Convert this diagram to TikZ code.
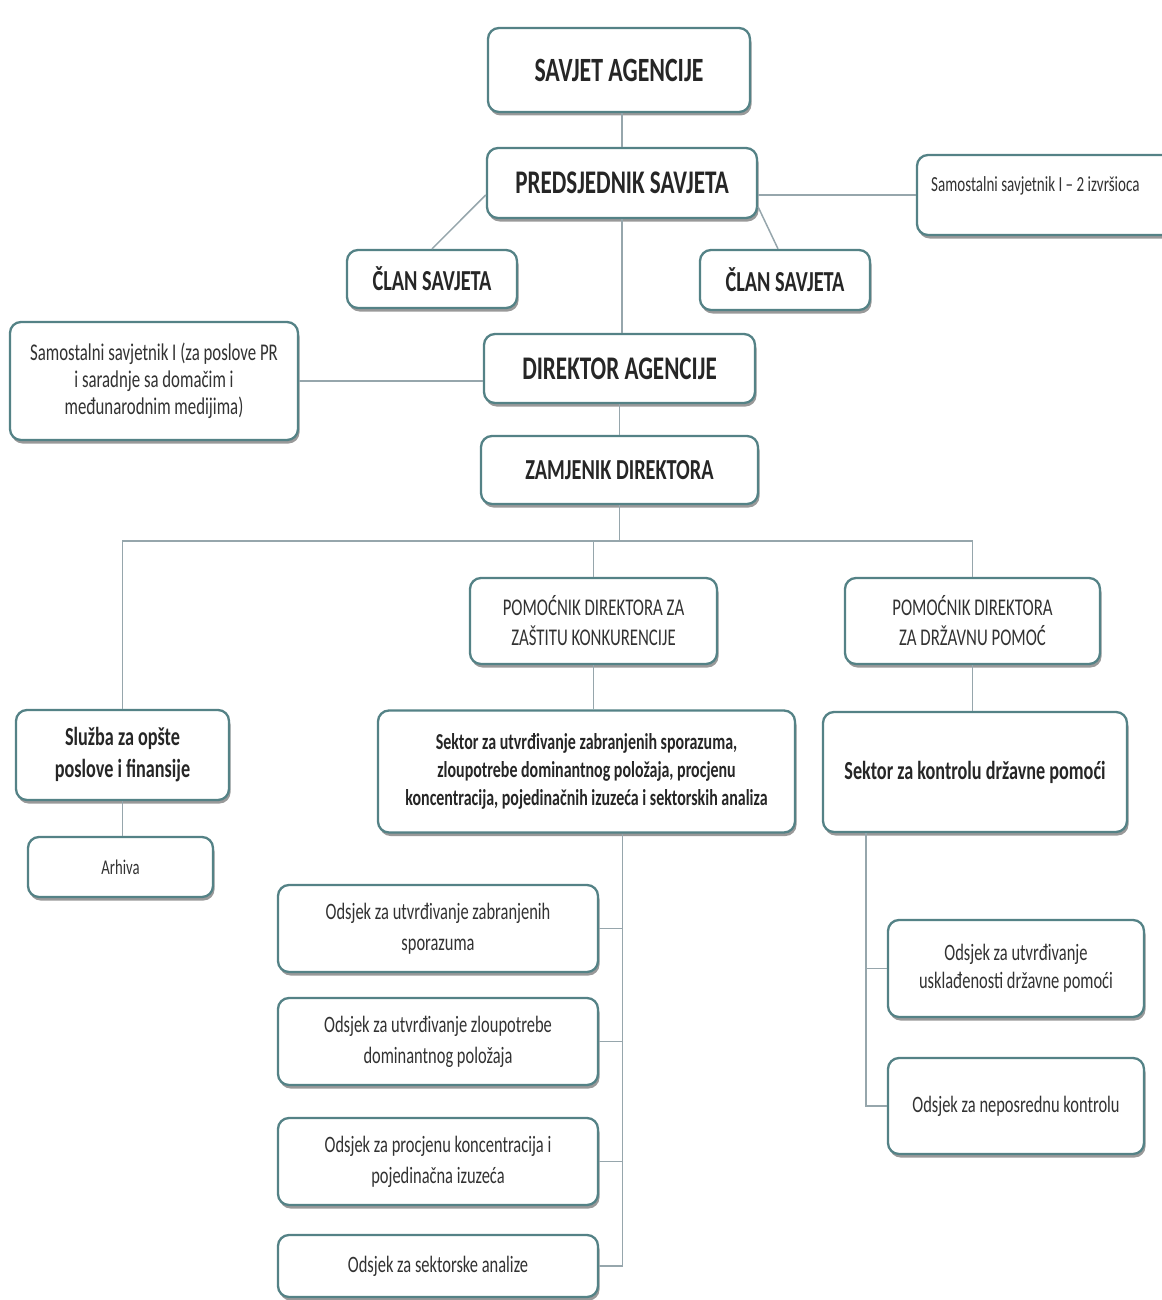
\documentclass[tikz,border=0pt]{standalone}
\usepackage{fontspec}
\setmainfont{Carlito}[FakeStretch=0.7]
\usetikzlibrary{shadows,calc}
\definecolor{bordc}{RGB}{84,130,134}
\definecolor{linec}{RGB}{150,166,172}
\definecolor{txt}{RGB}{38,38,38}
\definecolor{txtl}{RGB}{50,50,50}
\newcommand{\fsz}[2]{\fontsize{#1}{#2}\selectfont}
\begin{document}
\begin{tikzpicture}[x=1pt,y=-1pt,
  box/.style={draw=bordc, line width=2.3pt, rounded corners=11pt, fill=white,
    align=center, text=txt, inner sep=2pt,
    drop shadow={shadow xshift=1.5pt, shadow yshift=-3.5pt, fill=black, opacity=0.4}},
  rbox/.style={box, text=txtl},
  conn/.style={draw=linec, line width=1.5pt}]
\useasboundingbox (0,0) rectangle (1161,1300);

% nodes
\node[box, minimum width=262pt, minimum height=84pt, font=\fsz{34}{40}\bfseries] (savjet) at (619,70) {SAVJET AGENCIJE};
\node[box, minimum width=270pt, minimum height=70pt, font=\fsz{33}{38}\bfseries] (pred) at (622,183) {PREDSJEDNIK SAVJETA};
\node[box, minimum width=263pt, minimum height=80pt] (sam2) at (1048.5,195) {};
\node[anchor=west, font=\fsz{21.5}{24}, text=txtl, inner sep=0pt] (sam2t) at (931,186) {Samostalni savjetnik I – 2 izvršioca};
\node[box, minimum width=170pt, minimum height=58pt, font=\fsz{29}{34}\bfseries] (clan1) at (432,279) {ČLAN SAVJETA};
\node[box, minimum width=170pt, minimum height=60pt, font=\fsz{29}{34}\bfseries] (clan2) at (785,280) {ČLAN SAVJETA};
\node[rbox, minimum width=288pt, minimum height=118pt, font=\fsz{24}{27}] (sampr) at (154,381) {Samostalni savjetnik I (za poslove PR\\ i saradnje sa domačim i\\ međunarodnim medijima)};
\node[box, minimum width=271pt, minimum height=69pt, font=\fsz{33}{38}\bfseries] (dir) at (619.5,368.5) {DIREKTOR AGENCIJE};
\node[box, minimum width=277pt, minimum height=68pt, font=\fsz{29}{34}\bfseries] (zam) at (619.5,470) {ZAMJENIK DIREKTORA};
\node[rbox, minimum width=247pt, minimum height=86pt, font=\fsz{24}{30}] (pom1) at (593.5,621) {POMOĆNIK DIREKTORA ZA\\ZAŠTITU KONKURENCIJE};
\node[rbox, minimum width=255pt, minimum height=86pt, font=\fsz{24}{30}] (pom2) at (972.5,621) {POMOĆNIK DIREKTORA\\ZA DRŽAVNU POMOĆ};
\node[box, minimum width=213pt, minimum height=90pt, font=\fsz{26}{32}\bfseries] (sluzba) at (122.5,755) {Služba za opšte\\poslove i finansije};
\node[rbox, minimum width=185pt, minimum height=60pt, font=\fsz{21}{24}] (arhiva) at (120.5,867) {Arhiva};
\node[box, minimum width=417pt, minimum height=122pt, font=\fsz{22.8}{28}\bfseries] (sek1) at (586.5,771.5) {Sektor za utvrđivanje zabranjenih sporazuma,\\zloupotrebe dominantnog položaja, procjenu\\koncentracija, pojedinačnih izuzeća i sektorskih analiza};
\node[box, minimum width=304pt, minimum height=120pt, font=\fsz{26}{32}\bfseries] (sek2) at (975,772) {Sektor za kontrolu državne pomoći};
\node[rbox, minimum width=320pt, minimum height=87pt, font=\fsz{23.5}{31}] (od1) at (438,928.5) {Odsjek za utvrđivanje zabranjenih\\sporazuma};
\node[rbox, minimum width=320pt, minimum height=87pt, font=\fsz{23.5}{31}] (od2) at (438,1041.5) {Odsjek za utvrđivanje zloupotrebe\\dominantnog položaja};
\node[rbox, minimum width=320pt, minimum height=87pt, font=\fsz{23.5}{31}] (od3) at (438,1161.5) {Odsjek za procjenu koncentracija i\\pojedinačna izuzeća};
\node[rbox, minimum width=320pt, minimum height=62pt, font=\fsz{23.5}{31}] (od4) at (438,1266) {Odsjek za sektorske analize};
\node[rbox, minimum width=256pt, minimum height=97pt, font=\fsz{23.5}{28}] (od5) at (1016,968.5) {Odsjek za utvrđivanje\\usklađenosti državne pomoći};
\node[rbox, minimum width=256pt, minimum height=96pt, font=\fsz{23.5}{28}] (od6) at (1016,1106) {Odsjek za neposrednu kontrolu};

% connectors
\draw[conn] (pred.north) -- (pred.north |- savjet.south);
\draw[conn] (pred.south) -- (pred.south |- dir.north);
\draw[conn] (pred.185) -- (clan1.north);
\draw[conn] (pred.-10) -- ($(clan2.north)+(-7,0)$);
\draw[conn] (pred.east |- sam2.west) -- (sam2.west);
\draw[conn] (sampr.east) -- (sampr.east -| dir.west);
\draw[conn] (dir.south) -- (dir.south |- zam.north);
\coordinate (bus) at ($(zam.south)+(0,36)$);
\draw[conn] (zam.south) -- (bus);
\draw[conn] (sluzba.north) -- (sluzba.north |- bus) -- (pom2.north |- bus) -- (pom2.north);
\draw[conn] (pom1.north) -- (pom1.north |- bus);
\draw[conn] (pom1.south) -- (pom1.south |- sek1.north);
\draw[conn] (pom2.south) -- (pom2.south |- sek2.north);
\draw[conn] (sluzba.south) -- (sluzba.south |- arhiva.north);
\coordinate (s1) at ($(sek1.south)+(36,0)$);
\draw[conn] (s1) |- (od4.east);
\draw[conn] (od1.east) -- (od1.east -| s1);
\draw[conn] (od2.east) -- (od2.east -| s1);
\draw[conn] (od3.east) -- (od3.east -| s1);
\coordinate (s2) at ($(sek2.south)+(-109,0)$);
\draw[conn] (s2) |- (od6.west);
\draw[conn] (od5.west) -- (od5.west -| s2);
\end{tikzpicture}
\end{document}
